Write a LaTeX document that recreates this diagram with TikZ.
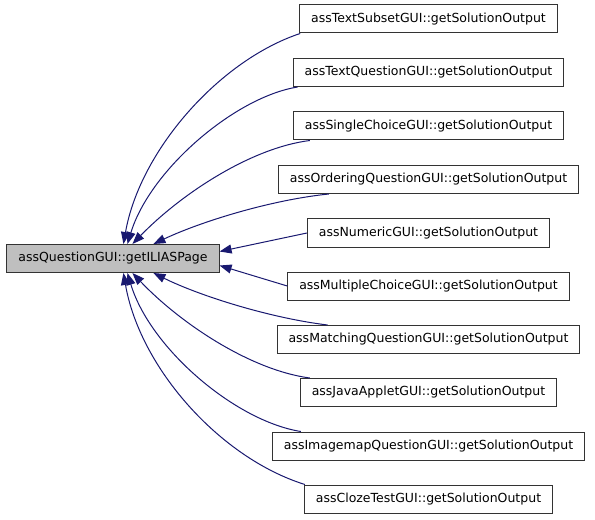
\documentclass[tikz,border=0pt]{standalone}
\usepackage{fontspec}
\setmainfont{DejaVu Sans}
\usetikzlibrary{arrows.meta}
\definecolor{edgeblue}{RGB}{25,25,112}
\definecolor{nodegray}{RGB}{191,191,191}
\tikzset{
  fn/.style={draw=black!80, line width=1bp, fill=white, minimum height=28bp, inner xsep=11.5bp, inner ysep=0pt, font=\fontsize{12.5bp}{14bp}\selectfont, anchor=center},
  cur/.style={fn, fill=nodegray},
  edge/.style={draw=edgeblue, line width=1bp, -{Triangle[length=12bp,width=9bp]}},
}
\begin{document}
\begin{tikzpicture}[x=1bp,y=-1bp]
\useasboundingbox (0,0) rectangle (595,520);
\node[cur] (L) at (113,258.5) {assQuestionGUI::getILIASPage};
\node[fn] (r1) at (428.5,19) {assTextSubsetGUI::getSolutionOutput};
\node[fn] (r2) at (428.5,72.5) {assTextQuestionGUI::getSolutionOutput};
\node[fn] (r3) at (428.5,126) {assSingleChoiceGUI::getSolutionOutput};
\node[fn] (r4) at (428.5,179.5) {assOrderingQuestionGUI::getSolutionOutput};
\node[fn] (r5) at (428.5,233) {assNumericGUI::getSolutionOutput};
\node[fn] (r6) at (428.5,286) {assMultipleChoiceGUI::getSolutionOutput};
\node[fn] (r7) at (428.5,339.5) {assMatchingQuestionGUI::getSolutionOutput};
\node[fn] (r8) at (428.5,392.5) {assJavaAppletGUI::getSolutionOutput};
\node[fn] (r9) at (428.5,446) {assImagemapQuestionGUI::getSolutionOutput};
\node[fn] (r10) at (428.5,499) {assClozeTestGUI::getSolutionOutput};

\draw[edge] ([xshift=1bp]r1.south west) .. controls (220,60) and (140,150) .. ([xshift=117bp]L.north west);
\draw[edge] ([xshift=5bp]r2.south west) .. controls (235,97) and (150,170) .. ([xshift=121bp]L.north west);
\draw[edge] ([xshift=17bp]r3.south west) .. controls (250,148) and (180,195) .. ([xshift=126bp]L.north west);
\draw[edge] ([xshift=51bp]r4.south west) .. controls (270,200) and (200,222) .. ([xshift=147bp]L.north west);
\draw[edge] (r5.west) -- ([yshift=7bp]L.east);
\draw[edge] (r6.west) -- ([yshift=-7bp]L.east);
\draw[edge] ([xshift=51bp]r7.north west) .. controls (270,318) and (200,296) .. ([xshift=147bp]L.south west);
\draw[edge] ([xshift=10bp]r8.north west) .. controls (250,370) and (180,323) .. ([xshift=126bp]L.south west);
\draw[edge] ([xshift=29bp]r9.north west) .. controls (235,421) and (150,348) .. ([xshift=121bp]L.south west);
\draw[edge] ([xshift=1bp]r10.north west) .. controls (220,458) and (140,368) .. ([xshift=117bp]L.south west);
\end{tikzpicture}
\end{document}
